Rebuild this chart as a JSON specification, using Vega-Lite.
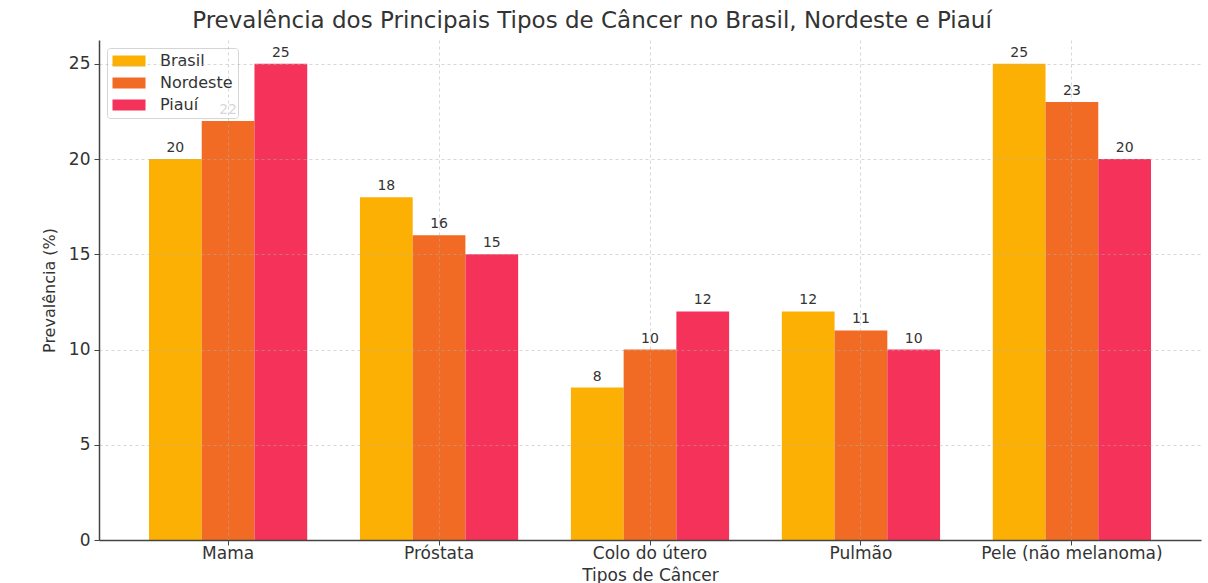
{
  "$schema": "https://vega.github.io/schema/vega-lite/v6.json",
  "autosize": "none",
  "width": 1102,
  "height": 500,
  "padding": {"left": 99, "top": 40, "right": 7, "bottom": 43},
  "background": "white",
  "title": {
    "text": "Prevalência dos Principais Tipos de Câncer no Brasil, Nordeste e Piauí",
    "anchor": "middle",
    "dx": -58,
    "offset": 7,
    "fontSize": 23,
    "font": "DejaVu Sans",
    "fontWeight": "normal",
    "color": "#333333"
  },
  "config": {
    "view": {"stroke": null},
    "font": "DejaVu Sans"
  },
  "data": {
    "values": [
      {"tipo": "Mama", "regiao": "Brasil", "valor": 20},
      {"tipo": "Mama", "regiao": "Nordeste", "valor": 22},
      {"tipo": "Mama", "regiao": "Piauí", "valor": 25},
      {"tipo": "Próstata", "regiao": "Brasil", "valor": 18},
      {"tipo": "Próstata", "regiao": "Nordeste", "valor": 16},
      {"tipo": "Próstata", "regiao": "Piauí", "valor": 15},
      {"tipo": "Colo do útero", "regiao": "Brasil", "valor": 8},
      {"tipo": "Colo do útero", "regiao": "Nordeste", "valor": 10},
      {"tipo": "Colo do útero", "regiao": "Piauí", "valor": 12},
      {"tipo": "Pulmão", "regiao": "Brasil", "valor": 12},
      {"tipo": "Pulmão", "regiao": "Nordeste", "valor": 11},
      {"tipo": "Pulmão", "regiao": "Piauí", "valor": 10},
      {"tipo": "Pele (não melanoma)", "regiao": "Brasil", "valor": 25},
      {"tipo": "Pele (não melanoma)", "regiao": "Nordeste", "valor": 23},
      {"tipo": "Pele (não melanoma)", "regiao": "Piauí", "valor": 20}
    ]
  },
  "encoding": {
    "x": {
      "field": "tipo",
      "type": "nominal",
      "sort": null,
      "scale": {"paddingInner": 0.25, "paddingOuter": 0.237},
      "axis": {
        "title": "Tipos de Câncer",
        "titleFontSize": 17,
        "titleFontWeight": "normal",
        "titleColor": "#333333",
        "titlePadding": 6,
        "labelAngle": 0,
        "labelFontSize": 17,
        "labelColor": "#333333",
        "labelPadding": 0,
        "labelLimit": 0,
        "bandPosition": 0.5,
        "grid": true,
        "gridColor": "#b0b0b0",
        "gridOpacity": 0.5,
        "gridDash": [3, 3],
        "gridWidth": 1,
        "domainColor": "#444444",
        "domainWidth": 1.5,
        "tickColor": "#444444",
        "tickSize": 5,
        "zindex": 1
      }
    },
    "xOffset": {"field": "regiao", "type": "nominal", "sort": ["Brasil", "Nordeste", "Piauí"], "scale": {"paddingInner": 0, "paddingOuter": 0}},
    "y": {
      "field": "valor",
      "type": "quantitative",
      "scale": {"domain": [0, 26.25], "nice": false},
      "axis": {
        "title": "Prevalência (%)",
        "titleFontSize": 16,
        "titleFontWeight": "normal",
        "titleColor": "#333333",
        "titlePadding": 11,
        "values": [0, 5, 10, 15, 20, 25],
        "labelFontSize": 17,
        "labelColor": "#333333",
        "labelPadding": 4,
        "grid": true,
        "gridColor": "#b0b0b0",
        "gridOpacity": 0.5,
        "gridDash": [3, 3],
        "gridWidth": 1,
        "domainColor": "#444444",
        "domainWidth": 1.5,
        "tickColor": "#444444",
        "tickSize": 5,
        "zindex": 1
      }
    }
  },
  "layer": [
    {
      "mark": {"type": "bar"},
      "encoding": {
        "color": {
          "field": "regiao",
          "type": "nominal",
          "sort": ["Brasil", "Nordeste", "Piauí"],
          "scale": {"domain": ["Brasil", "Nordeste", "Piauí"], "range": ["#FDB004", "#F26B24", "#F4325A"]},
          "legend": {
            "title": null,
            "orient": "top-left",
            "offset": 8,
            "labelFontSize": 16,
            "labelColor": "#333333",
            "symbolType": "M-1,-0.73H3.4V0.73H-1Z",
            "symbolSize": 225,
            "symbolStrokeWidth": 0,
            "symbolOpacity": 1,
            "rowPadding": 6,
            "labelOffset": 32,
            "padding": 5,
            "strokeColor": "#d5d5d5",
            "fillColor": "rgba(255,255,255,0.8)",
            "cornerRadius": 3
          }
        }
      }
    },
    {
      "mark": {"type": "text", "dy": -11, "fontSize": 14, "color": "#333333"},
      "encoding": {
        "text": {"field": "valor", "type": "quantitative"}
      }
    }
  ]
}
